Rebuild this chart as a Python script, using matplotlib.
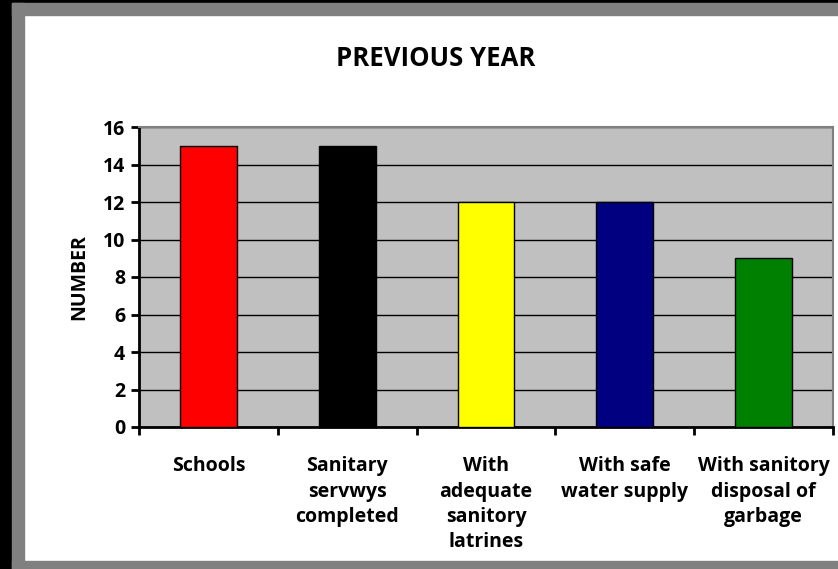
import numpy as np
import matplotlib.pyplot as plt
from matplotlib.patches import Rectangle

categories = ["Schools", "Sanitary\nservwys\ncompleted", "With\nadequate\nsanitory\nlatrines",
              "With safe\nwater supply", "With sanitory\ndisposal of\ngarbage"]
values = [15, 15, 12, 12, 9]
bar_colors = ["#FF0000", "#000000", "#FFFF00", "#000080", "#008000"]
y_ticks = [0, 2, 4, 6, 8, 10, 12, 14, 16]

plt.rcParams['font.family'] = ['Open Sans', 'DejaVu Sans']
plt.rcParams['font.weight'] = 'bold'

W, H = 838, 569
fig = plt.figure(figsize=(W / 100, H / 100), dpi=100)
fig.patch.set_facecolor("white")

# frame around the chart (black strip, then gray border)
fig.patches.append(Rectangle((0, 0), 12 / W, 1, transform=fig.transFigure, color="black", zorder=0))
fig.patches.append(Rectangle((0, 1 - 3 / H), 1, 3 / H, transform=fig.transFigure, color="black", zorder=0))
fig.patches.append(Rectangle((12 / W, 0), 12 / W, 1 - 3 / H, transform=fig.transFigure, color="#808080", zorder=0))
fig.patches.append(Rectangle((12 / W, 1 - 15 / H), 1, 12 / H, transform=fig.transFigure, color="#808080", zorder=0))
fig.patches.append(Rectangle((12 / W, 0), 1, 8 / H, transform=fig.transFigure, color="#808080", zorder=0))

left, right, top, bottom = 139, 833, 127, 427
ax = fig.add_axes([left / W, 1 - bottom / H, (right - left) / W, (bottom - top) / H])
ax.set_facecolor("#C0C0C0")

x = np.arange(len(values))
ax.bar(x, values, width=0.41, color=bar_colors, edgecolor="black", linewidth=1, zorder=3)

ax.set_xlim(-0.5, len(values) - 0.5)
ax.set_ylim(0, 16)
ax.set_yticks(y_ticks)
ax.yaxis.grid(True, color="black", linewidth=1, zorder=1)
ax.set_axisbelow(True)

ax.set_xticks(np.arange(len(values) + 1) - 0.5)
ax.set_xticklabels([])
ax.set_xticks(x, minor=True)
ax.set_xticklabels(categories, minor=True, fontsize=14, fontweight="bold", linespacing=1.36, va="top")
ax.tick_params(axis="x", which="minor", length=0, pad=21)
ax.tick_params(axis="x", which="major", length=6, width=2, direction="out")
ax.tick_params(axis="y", length=6, width=2, direction="out", labelsize=14, pad=4)
for lab in ax.get_yticklabels():
    lab.set_fontweight("bold")

ax.spines["left"].set_linewidth(2)
ax.spines["bottom"].set_linewidth(2)
ax.spines["top"].set_color("#808080")
ax.spines["right"].set_color("#808080")
ax.spines["top"].set_linewidth(1.5)
ax.spines["right"].set_linewidth(1.5)

ax.set_ylabel("NUMBER", fontsize=14, fontweight="bold", labelpad=10)
fig.text(436 / W, 1 - 58 / H, "PREVIOUS YEAR", fontsize=18.5, fontweight="bold", ha="center", va="center")

fig.savefig("out.png", dpi=100)
